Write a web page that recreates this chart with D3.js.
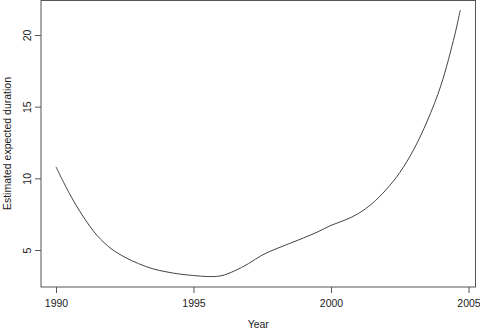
<!DOCTYPE html>
<html><head><meta charset="utf-8">
<script src="https://cdn.jsdelivr.net/npm/d3@7"></script>
<style>body{margin:0;background:#fff}svg{display:block}text{font-family:"Liberation Sans",Arial,Helvetica,sans-serif;fill:#222}</style>
</head><body><svg id="c" width="480" height="331"></svg>
<script>
const years = [1990.0,1990.5,1991.0,1991.5,1992.0,1992.5,1993.0,1993.5,1994.0,1994.5,1995.0,1995.5,1996.0,1996.5,1997.0,1997.5,1998.0,1998.5,1999.0,1999.5,2000.0,2000.5,2001.0,2001.5,2002.0,2002.5,2003.0,2003.5,2004.0,2004.5,2004.7];
const duration = [10.8,8.9,7.3,6.0,5.1,4.5,4.05,3.7,3.48,3.32,3.22,3.15,3.2,3.55,4.05,4.65,5.08,5.46,5.84,6.25,6.72,7.08,7.55,8.25,9.2,10.4,11.98,14.0,16.5,20.0,21.74];
const xTicks = [1990,1995,2000,2005];
const yTicks = [5,10,15,20];
const xTitle = "Year", yTitle = "Estimated expected duration";

const svg = d3.select("#c");
const x = d3.scaleLinear().domain([1990,2005]).range([56,468.5]);
const y = d3.scaleLinear().domain([5,20]).range([250,35]);
const box = {l:41,r:475.5,t:0.5,b:287};
const ax = "#555";

svg.append("rect").attr("x",box.l).attr("y",box.t).attr("width",box.r-box.l).attr("height",box.b-box.t)
  .attr("fill","none").attr("stroke",ax).attr("stroke-width",1);

const xa = svg.append("g").attr("transform",`translate(0,${box.b})`)
  .call(d3.axisBottom(x).tickValues(xTicks).tickFormat(d3.format("d")).tickSize(6).tickPadding(7));
xa.select(".domain").remove();
xa.selectAll("line").attr("stroke",ax);
xa.selectAll("text").attr("font-size",10.5).style("fill","#222");

const ya = svg.append("g").attr("transform",`translate(${box.l},0)`)
  .call(d3.axisLeft(y).tickValues(yTicks).tickSize(6).tickPadding(7));
ya.select(".domain").remove();
ya.selectAll("line").attr("stroke",ax);
ya.selectAll("text").attr("font-size",10.5).style("fill","#222")
  .attr("text-anchor","middle").attr("dy",0).attr("x",0)
  .attr("transform","translate(-10,0) rotate(-90)");

svg.append("path").datum(years.map((t,i)=>[t,duration[i]]))
  .attr("fill","none").attr("stroke","#444").attr("stroke-width",1)
  .attr("d",d3.line().x(d=>x(d[0])).y(d=>y(d[1])).curve(d3.curveCatmullRom));

svg.append("text").attr("x",(box.l+box.r)/2).attr("y",328).attr("text-anchor","middle").attr("font-size",10.5).text(xTitle);
svg.append("text").attr("transform",`translate(10.5,${box.b/2}) rotate(-90)`).attr("text-anchor","middle").attr("font-size",10.5).text(yTitle);
</script></body></html>
